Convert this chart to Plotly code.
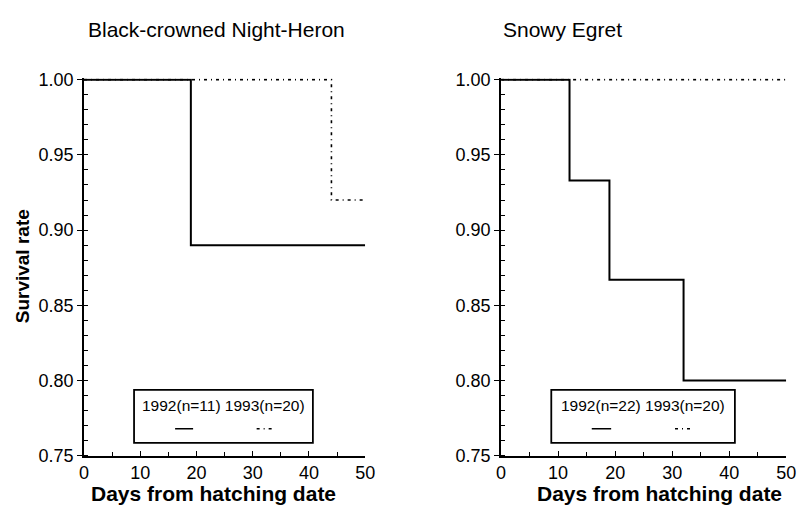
import plotly.graph_objects as go

# ---- data ----
days_max = 50
# Black-crowned Night-Heron
bcnh_1992_days = [0, 19, 19, 50]
bcnh_1992_surv = [1.00, 1.00, 0.89, 0.89]
bcnh_1993_days = [0, 44, 44, 50]
bcnh_1993_surv = [1.00, 1.00, 0.92, 0.92]
# Snowy Egret
se_1992_days = [0, 12, 12, 19, 19, 32, 32, 50]
se_1992_surv = [1.00, 1.00, 0.933, 0.933, 0.867, 0.867, 0.80, 0.80]
se_1993_days = [0, 50]
se_1993_surv = [1.00, 1.00]

titles = ["Black-crowned Night-Heron", "Snowy Egret"]
legend_texts = ["1992(n=11) 1993(n=20)", "1992(n=22) 1993(n=20)"]
x_ticks = [0, 10, 20, 30, 40, 50]
y_ticks = [0.75, 0.80, 0.85, 0.90, 0.95, 1.00]
y_ticklabels = ["0.75", "0.80", "0.85", "0.90", "0.95", "1.00"]

FONT = "Liberation Sans, Arial, sans-serif"
DOT = "3px,4px,1px,4px"

fig = go.Figure()

def add_pair(d92, s92, d93, s93, xa, ya):
    fig.add_trace(go.Scatter(x=d93, y=s93, mode="lines", xaxis=xa, yaxis=ya,
                             line=dict(color="black", width=1.6, dash=DOT),
                             showlegend=False, hoverinfo="skip"))
    fig.add_trace(go.Scatter(x=d92, y=s92, mode="lines", xaxis=xa, yaxis=ya,
                             line=dict(color="black", width=2),
                             showlegend=False, hoverinfo="skip"))

add_pair(bcnh_1992_days, bcnh_1992_surv, bcnh_1993_days, bcnh_1993_surv, "x", "y")
add_pair(se_1992_days, se_1992_surv, se_1993_days, se_1993_surv, "x2", "y2")

W, H = 807, 514
ytop, ybot = 73, 464
ydom = [(H - ybot) / H, (H - ytop) / H]
xdom1 = [80.5 / W, 367 / W]
xdom2 = [505.5 / W, 796 / W]

xaxis_common = dict(range=[0, days_max], tickvals=x_ticks, ticks="inside", ticklen=5,
                    tickwidth=1, tickcolor="black", showline=True, linecolor="black",
                    linewidth=1.8, showgrid=False, zeroline=False,
                    tickfont=dict(family=FONT, size=18, color="black"),
                    minor=dict(dtick=5, ticks="inside", ticklen=4, tickcolor="black", tickwidth=1))
yaxis_common = dict(range=[0.75, 1.0008], tickvals=y_ticks, ticktext=y_ticklabels,
                    ticks="outside", ticklen=5, tickwidth=1, tickcolor="black",
                    showline=True, linecolor="black", linewidth=1.8, showgrid=False,
                    zeroline=False, tickfont=dict(family=FONT, size=18, color="black"),
                    minor=dict(dtick=0.01, ticks="inside", ticklen=4, tickcolor="black", tickwidth=1),
                    domain=ydom)

fig.update_layout(
    width=W, height=H, margin=dict(l=0, r=0, t=0, b=0),
    paper_bgcolor="white", plot_bgcolor="white",
    xaxis=dict(xaxis_common, domain=xdom1, anchor="y"),
    yaxis=dict(yaxis_common, anchor="x"),
    xaxis2=dict(xaxis_common, domain=xdom2, anchor="y2"),
    yaxis2=dict(yaxis_common, anchor="x2"),
)

# titles
fig.add_annotation(text=titles[0], xref="paper", yref="paper", x=83 / W, y=(H - 22) / H,
                   xanchor="left", yanchor="middle", showarrow=False,
                   font=dict(family=FONT, size=21, color="black"))
fig.add_annotation(text=titles[1], xref="paper", yref="paper", x=505 / W, y=(H - 22) / H,
                   xanchor="left", yanchor="middle", showarrow=False,
                   font=dict(family=FONT, size=21, color="black"))
# axis titles
fig.add_annotation(text="<b>Survival rate</b>", xref="paper", yref="paper", x=18 / W,
                   y=(H - 268) / H, xanchor="center", yanchor="middle", textangle=-90,
                   showarrow=False, font=dict(family=FONT, size=19, color="black"))
for cx in [212, 667]:
    fig.add_annotation(text="<b>Days from hatching date</b>", xref="paper", yref="paper",
                       x=cx / W, y=(H - 503) / H, xanchor="center", yanchor="middle",
                       showarrow=False, font=dict(family=FONT, size=21, color="black"))

# legend boxes (in data coordinates of each panel)
leg = [
    dict(xr="x", yr="y", x0=8.9, x1=40.7, s92=(16.2, 19.4), s93=(30.7, 33.6)),
    dict(xr="x2", yr="y2", x0=8.8, x1=41.0, s92=(15.9, 19.3), s93=(30.5, 33.8)),
]
for i, L in enumerate(leg):
    fig.add_shape(type="rect", xref=L["xr"], yref=L["yr"], x0=L["x0"], x1=L["x1"],
                  y0=0.7585, y1=0.7938, line=dict(color="black", width=1.8),
                  fillcolor="white", layer="above")
    fig.add_annotation(text=legend_texts[i], xref=L["xr"], yref=L["yr"],
                       x=(L["x0"] + L["x1"]) / 2, y=0.7835, showarrow=False,
                       xanchor="center", yanchor="middle",
                       font=dict(family=FONT, size=15.5, color="black"))
    fig.add_shape(type="line", xref=L["xr"], yref=L["yr"], x0=L["s92"][0], x1=L["s92"][1],
                  y0=0.768, y1=0.768, line=dict(color="black", width=1.5), layer="above")
    fig.add_shape(type="line", xref=L["xr"], yref=L["yr"], x0=L["s93"][0], x1=L["s93"][1],
                  y0=0.768, y1=0.768, line=dict(color="black", width=1.5, dash=DOT),
                  layer="above")

fig.write_html("out.html")
